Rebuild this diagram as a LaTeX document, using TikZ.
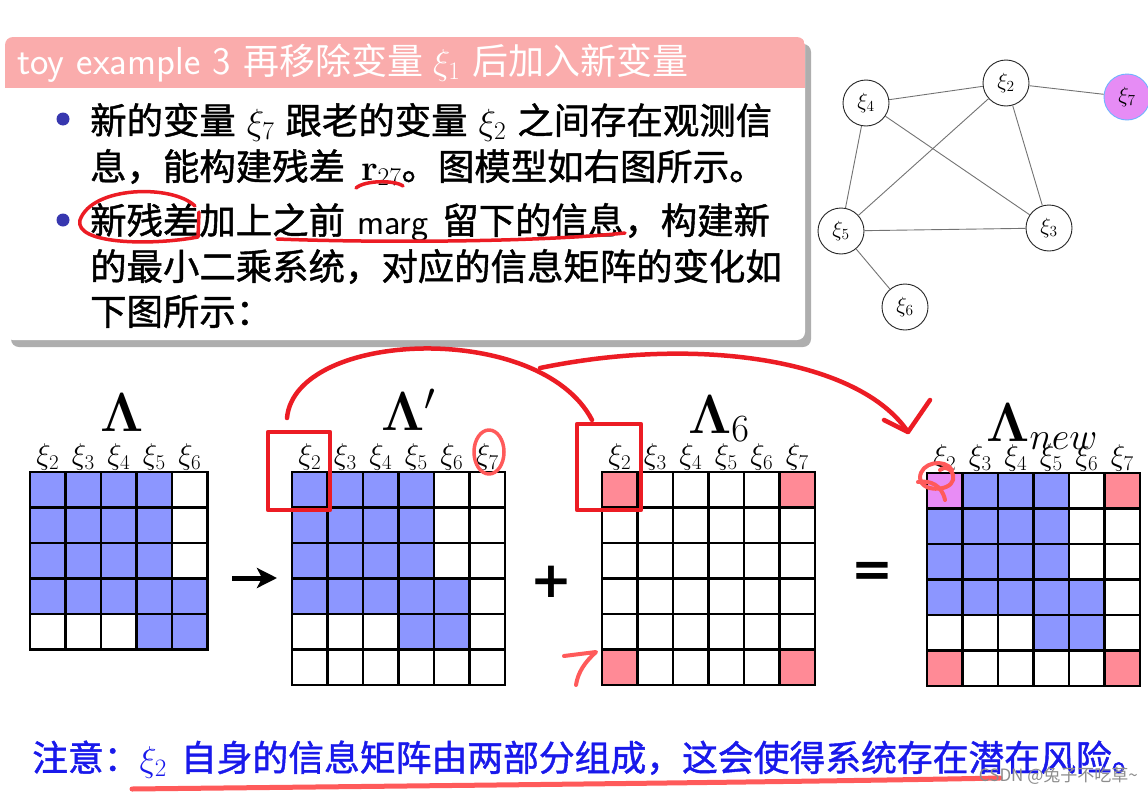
\documentclass[tikz,border=0pt]{standalone}
\usepackage{fix-cm}
\usepackage[no-math]{fontspec}
\newfontfamily\cjk{Noto Sans CJK SC}[FakeBold=1.2]
\newfontfamily\cjkr{Noto Sans CJK SC}
\newfontfamily\dejavu{DejaVu Sans}
\usetikzlibrary{arrows.meta,shadows,calc}
\definecolor{hdr}{RGB}{250,172,172}
\definecolor{cellB}{RGB}{140,150,255}
\definecolor{cellW}{RGB}{255,255,255}
\definecolor{cellP}{RGB}{255,138,150}
\definecolor{cellV}{RGB}{232,140,245}
\definecolor{nodeviolet}{RGB}{230,140,245}
\definecolor{nodeborder}{RGB}{110,180,255}
\definecolor{annred}{RGB}{236,28,36}
\definecolor{annlight}{RGB}{255,90,90}
\definecolor{bulletblue}{RGB}{55,55,175}
\definecolor{noteblue}{RGB}{25,25,235}
\newcommand{\gp}{\hspace{11pt}}
\newcommand{\drawmat}[4]{%
  \foreach \rw [count=\i from 0] in {#4} {
    \foreach \cl [count=\j from 0] in \rw {
      \fill[fill=cell\cl] ({#1+\j*35.5},{#2+\i*35.5}) rectangle ++(35.5,35.5);
    }
  }
  \foreach \k in {0,...,#3} {
    \draw[gridline] ({#1+\k*35.5},#2) -- ({#1+\k*35.5},{#2+#3*35.5});
    \draw[gridline] (#1,{#2+\k*35.5}) -- ({#1+#3*35.5},{#2+\k*35.5});
  }
}
\begin{document}
\begin{tikzpicture}[x=1pt,y=-1pt,
  bodytext/.style={anchor=base west,inner sep=0pt,font=\cjk\fontsize{36.4}{40}\selectfont},
  gnode/.style={circle,draw=black!85,line width=0.9pt,minimum size=46pt,inner sep=0pt,fill=white,font=\fontsize{22}{24}\selectfont},
  gedge/.style={draw=black!55,line width=0.9pt},
  gridline/.style={line width=2.3pt,line cap=rect,draw=black},
  collab/.style={inner sep=0pt,font=\fontsize{30}{32}\selectfont},
  mtitle/.style={inner sep=0pt,font=\fontsize{55}{58}\selectfont},
  annot/.style={draw=annred,line width=4.5pt,line cap=round,line join=round},
  annotlight/.style={draw=annlight,line width=4pt,line cap=round,line join=round},
  opsign/.style={inner sep=0pt,font=\dejavu\bfseries\fontsize{50}{56}\selectfont}]
\useasboundingbox (0,0) rectangle (1148,795);
\fill[white] (0,0) rectangle (1148,795);

% title box
\fill[white,rounded corners=8pt,drop shadow={shadow xshift=6pt,shadow yshift=-7pt,opacity=0.45,fill=black!70}] (5,37) rectangle (805,340);
\begin{scope}
\clip[rounded corners=8pt] (5,37) rectangle (805,340);
\fill[hdr] (5,37) rectangle (805,88);
\end{scope}
\node[anchor=base west,inner sep=0pt,text=white,font=\cjkr\fontsize{36}{40}\selectfont] (title) at (17,74) {{\sffamily\fontsize{39}{40}\selectfont toy example 3}\hspace{12pt}再移除变量\hspace{10pt}$\xi_1$\hspace{12pt}后加入新变量};

% bullets
\fill[bulletblue] (63,119) circle (6.5pt);
\fill[bulletblue] (63,220) circle (6.5pt);
\node[bodytext] (l1) at (90,134) {新的变量\gp$\xi_7$\gp 跟老的变量\gp$\xi_2$\gp 之间存在观测信};
\node[bodytext] (l2) at (90,180) {息，能构建残差\hspace{16pt}$\mathbf{r}_{27}$。图模型如右图所示。};
\node[bodytext] (l3) at (90,234) {新残差加上之前\hspace{12pt}{\sffamily marg}\hspace{14pt}留下的信息，构建新};
\node[bodytext] (l4) at (90,280) {的最小二乘系统，对应的信息矩阵的变化如};
\node[bodytext] (l5) at (90,325) {下图所示：};

% graph
\node[gnode] (x2) at (1006,83) {$\xi_2$};
\node[gnode] (x4) at (866,103) {$\xi_4$};
\node[gnode,fill=nodeviolet,draw=nodeborder] (x7) at (1127,97) {$\xi_7$};
\node[gnode] (x5) at (841,231) {$\xi_5$};
\node[gnode] (x3) at (1049,228) {$\xi_3$};
\node[gnode] (x6) at (905,307) {$\xi_6$};
\draw[gedge] (x4) -- (x2);
\draw[gedge] (x2) -- (x7);
\draw[gedge] (x4) -- (x5);
\draw[gedge] (x4) -- (x3);
\draw[gedge] (x2) -- (x5);
\draw[gedge] (x2) -- (x3);
\draw[gedge] (x5) -- (x3);
\draw[gedge] (x5) -- (x6);

% matrices
\drawmat{30}{472}{5}{{B,B,B,B,W},{B,B,B,B,W},{B,B,B,B,W},{B,B,B,B,B},{W,W,W,B,B}}
\drawmat{292}{472}{6}{{B,B,B,B,W,W},{B,B,B,B,W,W},{B,B,B,B,W,W},{B,B,B,B,B,W},{W,W,W,B,B,W},{W,W,W,W,W,W}}
\drawmat{602}{472}{6}{{P,W,W,W,W,P},{W,W,W,W,W,W},{W,W,W,W,W,W},{W,W,W,W,W,W},{W,W,W,W,W,W},{P,W,W,W,W,P}}
\drawmat{927}{473}{6}{{V,B,B,B,W,P},{B,B,B,B,W,W},{B,B,B,B,W,W},{B,B,B,B,B,W},{W,W,W,B,B,W},{P,W,W,W,W,P}}

\foreach \lab [count=\j from 0] in {2,3,4,5,6}
  \node[collab] (la\lab) at ({30+(\j+0.5)*35.5},457) {$\xi_{\lab}$};
\foreach \lab [count=\j from 0] in {2,3,4,5,6,7}
  \node[collab] (lb\lab) at ({292+(\j+0.5)*35.5},457) {$\xi_{\lab}$};
\foreach \lab [count=\j from 0] in {2,3,4,5,6,7}
  \node[collab] (lc\lab) at ({602+(\j+0.5)*35.5},457) {$\xi_{\lab}$};
\foreach \lab [count=\j from 0] in {2,3,4,5,6,7}
  \node[collab] (ld\lab) at ({927+(\j+0.5)*35.5},458) {$\xi_{\lab}$};

\node[mtitle,anchor=base] (tA) at (122,431) {$\mathbf{\Lambda}$};
\node[mtitle,anchor=base west] (tB) at (381,430) {$\mathbf{\Lambda}'$};
\node[mtitle,anchor=base west] (tC) at (688,433) {$\mathbf{\Lambda}_6$};
\node[mtitle,anchor=base west] (tD) at (986,441) {$\mathbf{\Lambda}_{new}$};

% operators
\coordinate (arS) at (232,578);
\coordinate (arE) at (277,578);
\draw[line width=5pt,-{Stealth[length=20pt,width=20pt,inset=5pt]}] (arS) -- (arE);
\node[opsign] (plus) at (551,582) {+};
\node[opsign] (eq) at (872,574) {=};

% red annotations
\draw[annot] (268,432) rectangle (330,510);
\draw[annot] (577,424) rectangle (641,510);
\coordinate (a1s) at (287,418);
\coordinate (a1e) at (592,420);
\draw[annot] (a1s) .. controls (295,330) and (540,320) .. (a1e);
\coordinate (a2s) at (540,368);
\coordinate (a2e) at (908,432);
\draw[annot] (a2s) .. controls (700,335) and (860,360) .. (a2e);
\draw[annot] (884,420) -- (a2e) -- (930,400);
\draw[annotlight,line width=3.5pt] (489,452) ellipse (15pt and 22pt);
\draw[annotlight] (952,470) .. controls (945,458) and (920,462) .. (920,478) .. controls (920,492) and (950,492) .. (953,480) .. controls (955,470) and (945,465) .. (940,470);
\draw[annotlight] (918,482) .. controls (930,480) and (942,485) .. (945,500);
\draw[annotlight] (564,656) -- (596,652) .. controls (585,662) and (578,672) .. (576,685);
\draw[annot,line width=3.5pt] (356,188) .. controls (365,180) and (395,180) .. (403,186);
\draw[annot,line width=3.5pt] (195,206) .. controls (172,184) and (92,186) .. (80,220) .. controls (74,244) and (150,246) .. (198,237) -- (199,212);
\draw[annot,line width=3.5pt] (277,239) .. controls (380,243) and (540,242) .. (625,233);

% note
\node[anchor=base west,inner sep=0pt,text=noteblue,font=\cjk\fontsize{35.8}{40}\selectfont] (note) at (32,771) {注意：$\xi_2$\hspace{14pt}自身的信息矩阵由两部分组成，这会使得系统存在潜在风险。};
\draw[annotlight,line width=5pt] (132,789) .. controls (400,786) and (805,782) .. (1000,778);
\node[anchor=base east,inner sep=0pt,text=black!45,font=\cjkr\fontsize{17}{20}\selectfont] (wm) at (1138,781) {CSDN @兔子不吃草\textasciitilde};
\end{tikzpicture}
\end{document}
